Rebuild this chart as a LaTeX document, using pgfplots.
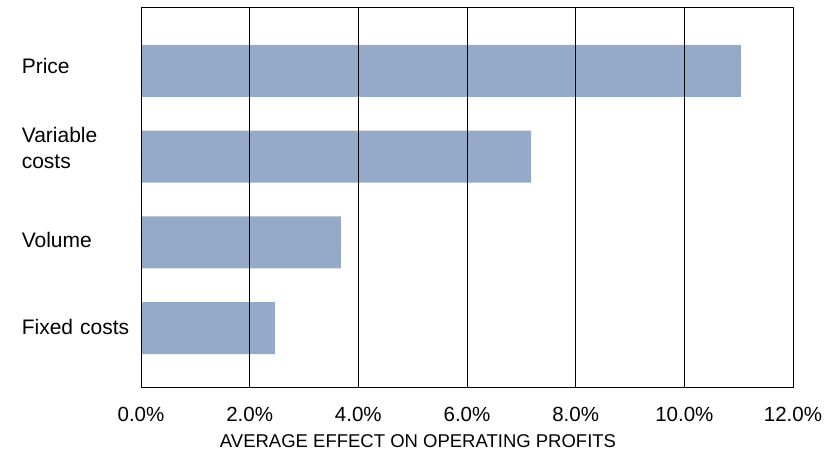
\documentclass[border=0pt]{standalone}
\usepackage{pgfplots}
\pgfplotsset{compat=1.18}
\usepackage{fontspec}
\setmainfont{Liberation Sans}
\definecolor{barblue}{RGB}{149,170,201}
\begin{document}
\begin{tikzpicture}
\path[use as bounding box] (0,0) rectangle (836pt,458pt);
\begin{axis}[
  at={(141pt,70pt)}, anchor=south west,
  scale only axis, width=652pt, height=380.5pt,
  xbar, bar width=52pt, bar shift=0pt,
  xmin=0, xmax=12, ymin=-0.70, ymax=3.74,
  xtick={0,2,4,6,8,10,12},
  xticklabels={0.0\%,2.0\%,4.0\%,6.0\%,8.0\%,10.0\%,12.0\%},
  ytick={0.01,1.03,2.10,3.06},
  yticklabels={Fixed costs,Volume,{Variable\\costs},Price},
  major tick length=0pt,
  xmajorgrids, grid style={black, line width=1pt},
  axis line style={black, line width=1pt},
  every tick label/.append style={font=\fontsize{21}{26}\selectfont},
  xticklabel style={font=\fontsize{20.5}{24}\selectfont, yshift=-16pt},
  yticklabel style={text width=112pt, align=left, inner sep=0pt, xshift=-7pt},
  xlabel={AVERAGE EFFECT ON OPERATING PROFITS},
  xlabel style={font=\fontsize{18.5}{22}\selectfont, xshift=-49pt, yshift=-6pt},
  axis on top,
]
\addplot[fill=barblue, draw=none] coordinates {(2.47,0) (3.68,1) (7.18,2) (11.04,3)};
\end{axis}
\end{tikzpicture}
\end{document}
